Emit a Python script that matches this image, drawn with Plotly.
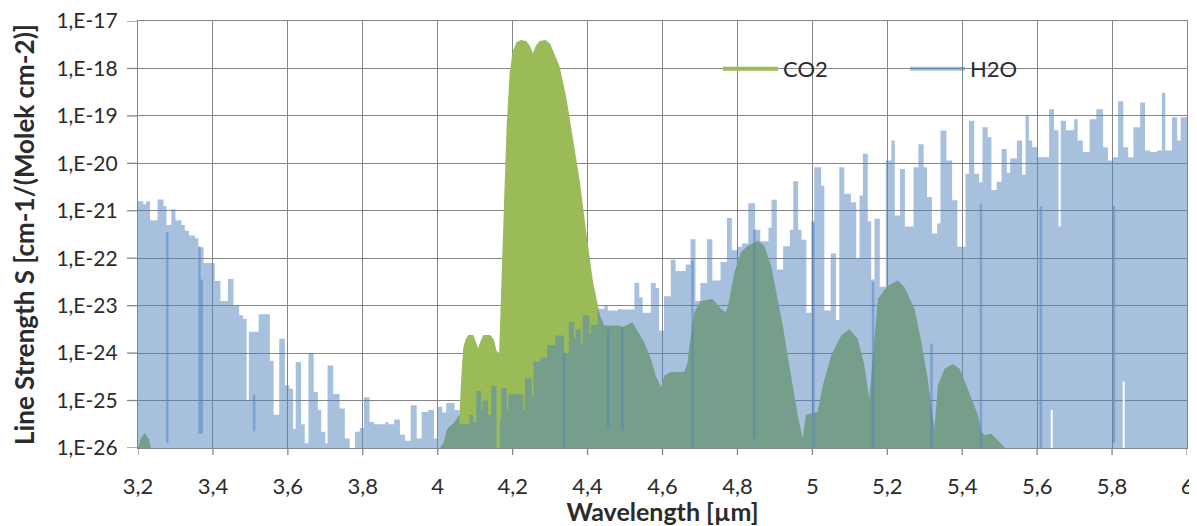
import plotly.graph_objects as go

# ---------------- data (log10 of line strength) ----------------
H2O_WL = [3.200, 3.214, 3.222, 3.232, 3.252, 3.268, 3.276, 3.289, 3.300, 3.316,
          3.325, 3.336, 3.352, 3.361, 3.375, 3.397, 3.405, 3.420, 3.440, 3.455,
          3.470, 3.480, 3.490, 3.496, 3.522, 3.552, 3.562, 3.577, 3.592, 3.604,
          3.614, 3.621, 3.635, 3.645, 3.655, 3.669, 3.680, 3.689, 3.700, 3.706,
          3.721, 3.738, 3.752, 3.765, 3.779, 3.792, 3.803, 3.818, 3.830, 3.860,
          3.868, 3.884, 3.899, 3.913, 3.928, 3.944, 3.957, 3.975, 3.990, 4.000,
          4.012, 4.023, 4.045, 4.058, 4.085, 4.094, 4.103, 4.116, 4.120, 4.134,
          4.143, 4.157, 4.166, 4.170, 4.184, 4.188, 4.229, 4.233, 4.251, 4.256,
          4.274, 4.292, 4.314, 4.337, 4.350, 4.364, 4.368, 4.382, 4.387, 4.405,
          4.409, 4.427, 4.445, 4.454, 4.481, 4.490, 4.525, 4.538, 4.547, 4.569,
          4.582, 4.591, 4.604, 4.622, 4.635, 4.662, 4.675, 4.688, 4.701, 4.719,
          4.733, 4.755, 4.772, 4.785, 4.799, 4.812, 4.829, 4.847, 4.861, 4.883,
          4.891, 4.905, 4.922, 4.940, 4.949, 4.962, 4.971, 4.984, 4.997, 5.005,
          5.023, 5.032, 5.049, 5.063, 5.072, 5.085, 5.103, 5.117, 5.126, 5.135,
          5.148, 5.157, 5.166, 5.180, 5.196, 5.211, 5.220, 5.234, 5.247, 5.270,
          5.283, 5.297, 5.306, 5.319, 5.333, 5.342, 5.358, 5.373, 5.387, 5.409,
          5.418, 5.432, 5.445, 5.454, 5.468, 5.478, 5.492, 5.505, 5.519, 5.528,
          5.546, 5.560, 5.569, 5.578, 5.587, 5.600, 5.632, 5.645, 5.657, 5.663,
          5.677, 5.699, 5.708, 5.722, 5.740, 5.758, 5.776, 5.789, 5.803, 5.816,
          5.830, 5.843, 5.857, 5.875, 5.888, 5.902, 5.920, 5.933, 5.942, 5.960,
          5.974, 5.983, 6.000]
H2O_EXP = [-20.80, -20.86, -20.80, -21.20, -20.76, -20.90, -21.30, -20.97, -21.20, -21.30,
           -21.42, -21.52, -21.58, -21.77, -22.10, -22.10, -22.48, -22.90, -22.44, -23.00,
           -23.20, -23.28, -25.00, -23.55, -23.18, -24.16, -25.30, -23.70, -24.68, -24.75,
           -25.60, -24.19, -25.50, -25.90, -24.00, -24.82, -25.20, -25.66, -25.90, -24.26,
           -24.86, -25.17, -25.80, -26.00, -25.66, -25.58, -24.93, -25.45, -25.50, -25.45,
           -25.50, -25.40, -25.72, -25.85, -25.10, -25.80, -25.24, -25.20, -25.80, -25.13,
           -25.25, -25.05, -25.20, -25.50, -25.30, -25.45, -24.80, -25.20, -25.00, -25.30,
           -24.70, -26.00, -25.40, -24.74, -25.20, -24.87, -25.20, -24.53, -24.90, -24.18,
           -24.10, -23.83, -23.63, -24.00, -23.35, -23.70, -23.50, -23.80, -23.20, -23.60,
           -23.40, -23.07, -23.00, -23.10, -23.07, -23.08, -22.52, -22.83, -23.15, -22.52,
           -22.63, -23.53, -22.80, -22.03, -22.27, -22.13, -21.60, -22.90, -22.52, -21.60,
           -22.47, -22.08, -21.15, -21.83, -21.76, -21.69, -20.84, -21.40, -21.64, -21.36,
           -20.77, -22.24, -21.75, -21.40, -20.38, -21.40, -21.61, -23.15, -21.22, -20.08,
           -20.47, -23.10, -21.90, -23.30, -20.08, -20.64, -20.82, -22.00, -20.68, -19.80,
           -21.22, -22.45, -21.17, -22.60, -19.94, -19.52, -21.10, -20.12, -21.33, -20.08,
           -19.60, -20.08, -20.71, -21.48, -21.27, -19.31, -19.94, -20.78, -21.76, -20.22,
           -19.10, -20.22, -20.40, -19.24, -19.45, -20.56, -20.39, -19.70, -20.20, -19.90,
           -19.52, -20.24, -19.00, -19.52, -19.66, -19.87, -18.86, -19.30, -21.33, -19.10,
           -19.30, -19.07, -19.52, -19.76, -19.07, -18.86, -19.66, -19.94, -19.87, -18.69,
           -19.66, -19.87, -19.24, -18.72, -19.73, -19.76, -19.73, -18.51, -19.73, -19.03,
           -19.52, -19.03, -19.03]

CO2_WL = [3.200, 3.207, 3.218, 3.228, 3.235, 4.005, 4.015, 4.025, 4.045, 4.058,
          4.063, 4.068, 4.075, 4.082, 4.095, 4.102, 4.108, 4.114, 4.122, 4.140,
          4.150, 4.157, 4.164, 4.170, 4.176, 4.184, 4.192, 4.200, 4.210, 4.222,
          4.236, 4.246, 4.254, 4.262, 4.272, 4.288, 4.300, 4.312, 4.325, 4.343,
          4.361, 4.379, 4.396, 4.414, 4.432, 4.444, 4.484, 4.495, 4.520, 4.551,
          4.569, 4.582, 4.596, 4.605, 4.622, 4.658, 4.667, 4.671, 4.685, 4.702,
          4.734, 4.756, 4.769, 4.775, 4.792, 4.809, 4.827, 4.854, 4.872, 4.890,
          4.907, 4.921, 4.934, 4.947, 4.961, 4.974, 4.983, 4.996, 5.014, 5.028,
          5.050, 5.077, 5.099, 5.121, 5.139, 5.152, 5.161, 5.175, 5.201, 5.228,
          5.246, 5.273, 5.291, 5.308, 5.317, 5.326, 5.335, 5.353, 5.375, 5.393,
          5.411, 5.424, 5.442, 5.451, 5.460, 5.478, 5.491, 5.504, 5.515, 6.000]
CO2_EXP = [-26.00, -25.80, -25.68, -25.80, -26.00, -26.00, -25.90, -25.60, -25.45, -25.30,
           -24.50, -23.90, -23.70, -23.62, -23.62, -23.75, -23.90, -23.75, -23.62, -23.62,
           -23.72, -23.95, -24.00, -22.50, -20.90, -19.20, -18.10, -17.65, -17.45, -17.40,
           -17.42, -17.52, -17.68, -17.52, -17.42, -17.40, -17.48, -17.72, -17.95, -18.60,
           -19.44, -20.36, -21.42, -22.47, -23.17, -23.42, -23.42, -23.45, -23.35, -23.77,
           -24.12, -24.47, -24.72, -24.47, -24.40, -24.40, -24.20, -23.90, -23.14, -22.90,
           -22.86, -23.07, -23.14, -23.00, -22.30, -21.88, -21.74, -21.63, -21.74, -22.16,
           -22.86, -23.42, -24.05, -24.68, -25.31, -25.80, -25.30, -25.28, -25.24, -24.68,
           -24.05, -23.63, -23.49, -23.70, -24.26, -24.96, -24.12, -22.86, -22.58, -22.47,
           -22.61, -23.07, -23.77, -24.54, -25.10, -25.59, -24.68, -24.33, -24.23, -24.33,
           -24.68, -24.96, -25.31, -25.66, -25.73, -25.70, -25.80, -25.90, -26.00, -26.00]

# overlapping H2O lines (darker strokes)
SPIKE_WL = [3.278, 3.364, 3.370, 3.510, 4.337, 4.455, 4.493, 4.680, 4.845, 5.003,
            5.162, 5.318, 5.450, 5.610, 5.805]
SPIKE_TOP = [-21.45, -21.75, -22.45, -24.88, -24.00, -23.50, -23.45, -22.05, -21.40, -21.25,
             -22.50, -23.80, -20.85, -20.90, -20.90]
SPIKE_BOT = [-25.90, -25.70, -25.70, -25.65, -26.00, -25.60, -25.60, -26.00, -25.80, -26.00,
             -26.00, -26.00, -26.00, -26.00, -25.90]

# white gaps near the baseline
GAP_WL = [5.639, 5.831]
GAP_TOP = [-25.20, -24.60]
GAP_BOT = [-26.00, -26.00]

Y_EXP = [-26, -25, -24, -23, -22, -21, -20, -19, -18, -17]
X_TICKS = [3.2, 3.4, 3.6, 3.8, 4.0, 4.2, 4.4, 4.6, 4.8, 5.0, 5.2, 5.4, 5.6, 5.8, 6.0]
X_TICK_LABELS = ["3,2", "3,4", "3,6", "3,8", "4", "4,2", "4,4", "4,6", "4,8", "5",
                 "5,2", "5,4", "5,6", "5,8", "6"]

# ---------------- styling ----------------
GREEN = "#9BBB59"
BLUE_A = "rgba(79,129,189,0.5)"
GRID = "#868686"
FONT = "Lato"
TXT = "#2b2b2b"
PLOT_W, PLOT_H = 1049, 427


def pw(vals):
    return [10 ** v for v in vals]


def segs(xs, tops, bots):
    sx, sy = [], []
    for x, t, b in zip(xs, tops, bots):
        sx += [x, x, None]
        sy += [10 ** t, 10 ** b, None]
    return sx, sy


fig = go.Figure()

fig.add_trace(go.Scatter(x=CO2_WL, y=pw(CO2_EXP), mode="lines",
                         line=dict(width=0, color=GREEN), fill="tozeroy",
                         fillcolor=GREEN, showlegend=False, hoverinfo="skip"))
fig.add_trace(go.Scatter(x=H2O_WL, y=pw(H2O_EXP), mode="lines",
                         line=dict(width=0, color=BLUE_A, shape="hv"), fill="tozeroy",
                         fillcolor=BLUE_A, showlegend=False, hoverinfo="skip"))
sx, sy = segs(SPIKE_WL, SPIKE_TOP, SPIKE_BOT)
fig.add_trace(go.Scatter(x=sx, y=sy, mode="lines", line=dict(width=2.5, color=BLUE_A),
                         showlegend=False, hoverinfo="skip"))
gx, gy = segs(GAP_WL, GAP_TOP, GAP_BOT)
fig.add_trace(go.Scatter(x=gx, y=gy, mode="lines", line=dict(width=2, color="white"),
                         showlegend=False, hoverinfo="skip"))

# legend entries
fig.add_trace(go.Scatter(x=[None], y=[None], mode="lines", name="CO2",
                         line=dict(color=GREEN, width=4), legend="legend"))
fig.add_trace(go.Scatter(x=[None], y=[None], mode="lines", name="H2O",
                         line=dict(color=BLUE_A, width=4), legend="legend2"))

# visible tick marks (short strokes outside the plot at each tick position)
tick_shapes = []
for xv in X_TICKS:
    tick_shapes.append(dict(type="line", xref="x", yref="paper", x0=xv, x1=xv,
                            y0=0, y1=-7 / PLOT_H, line=dict(color=GRID, width=1.3)))
for e in Y_EXP:
    tick_shapes.append(dict(type="line", xref="paper", yref="y", x0=-11 / PLOT_W, x1=0,
                            y0=10 ** e, y1=10 ** e, line=dict(color=GRID, width=1.3)))

legend_common = dict(orientation="h", bgcolor="rgba(0,0,0,0)", borderwidth=0,
                     font=dict(family=FONT, size=22, color=TXT), itemwidth=55,
                     xanchor="left", yanchor="middle")

# page body adds an 8px offset, so the figure is 8px smaller than the window
fig.update_layout(
    width=1189, height=518, autosize=False,
    margin=dict(l=130, r=10, t=13, b=78),
    paper_bgcolor="white", plot_bgcolor="white",
    font=dict(family=FONT, size=22, color=TXT),
    shapes=tick_shapes,
    legend=dict(x=(718 - 138) / 1049, y=(448 - 69) / 427, **legend_common),
    legend2=dict(x=(905 - 138) / 1049, y=(448 - 69) / 427, **legend_common),
    xaxis=dict(range=[3.2, 6.0], tickvals=X_TICKS, ticktext=X_TICK_LABELS,
               automargin=False, ticklabeloverflow="allow",
               showgrid=True, gridcolor=GRID, gridwidth=1.3,
               showline=True, linecolor=GRID, linewidth=1.3, mirror=True,
               ticks="outside", ticklen=6, tickcolor="rgba(0,0,0,0)", tickwidth=1,
               ticklabelstandoff=12, zeroline=False,
               tickfont=dict(family=FONT, size=22, color=TXT),
               title=dict(text="<b>Wavelength [µm]</b>", standoff=8,
                          font=dict(family=FONT, size=25, color=TXT))),
    yaxis=dict(type="log", range=[-26.0004, -16.9996], tickvals=pw(Y_EXP),
               ticktext=[f"1,E{e}" for e in Y_EXP],
               automargin=False, ticklabeloverflow="allow",
               showgrid=True, gridcolor=GRID, gridwidth=1.3,
               showline=True, linecolor=GRID, linewidth=1.3, mirror=True,
               ticks="outside", ticklen=15, tickcolor="rgba(0,0,0,0)", tickwidth=1,
               zeroline=False,
               tickfont=dict(family=FONT, size=21, color=TXT),
               title=dict(text="<b>Line Strength S [cm-1/(Molek cm-2)]</b>", standoff=18,
                          font=dict(family=FONT, size=26, color=TXT))),
)

fig.write_html("out.html")
